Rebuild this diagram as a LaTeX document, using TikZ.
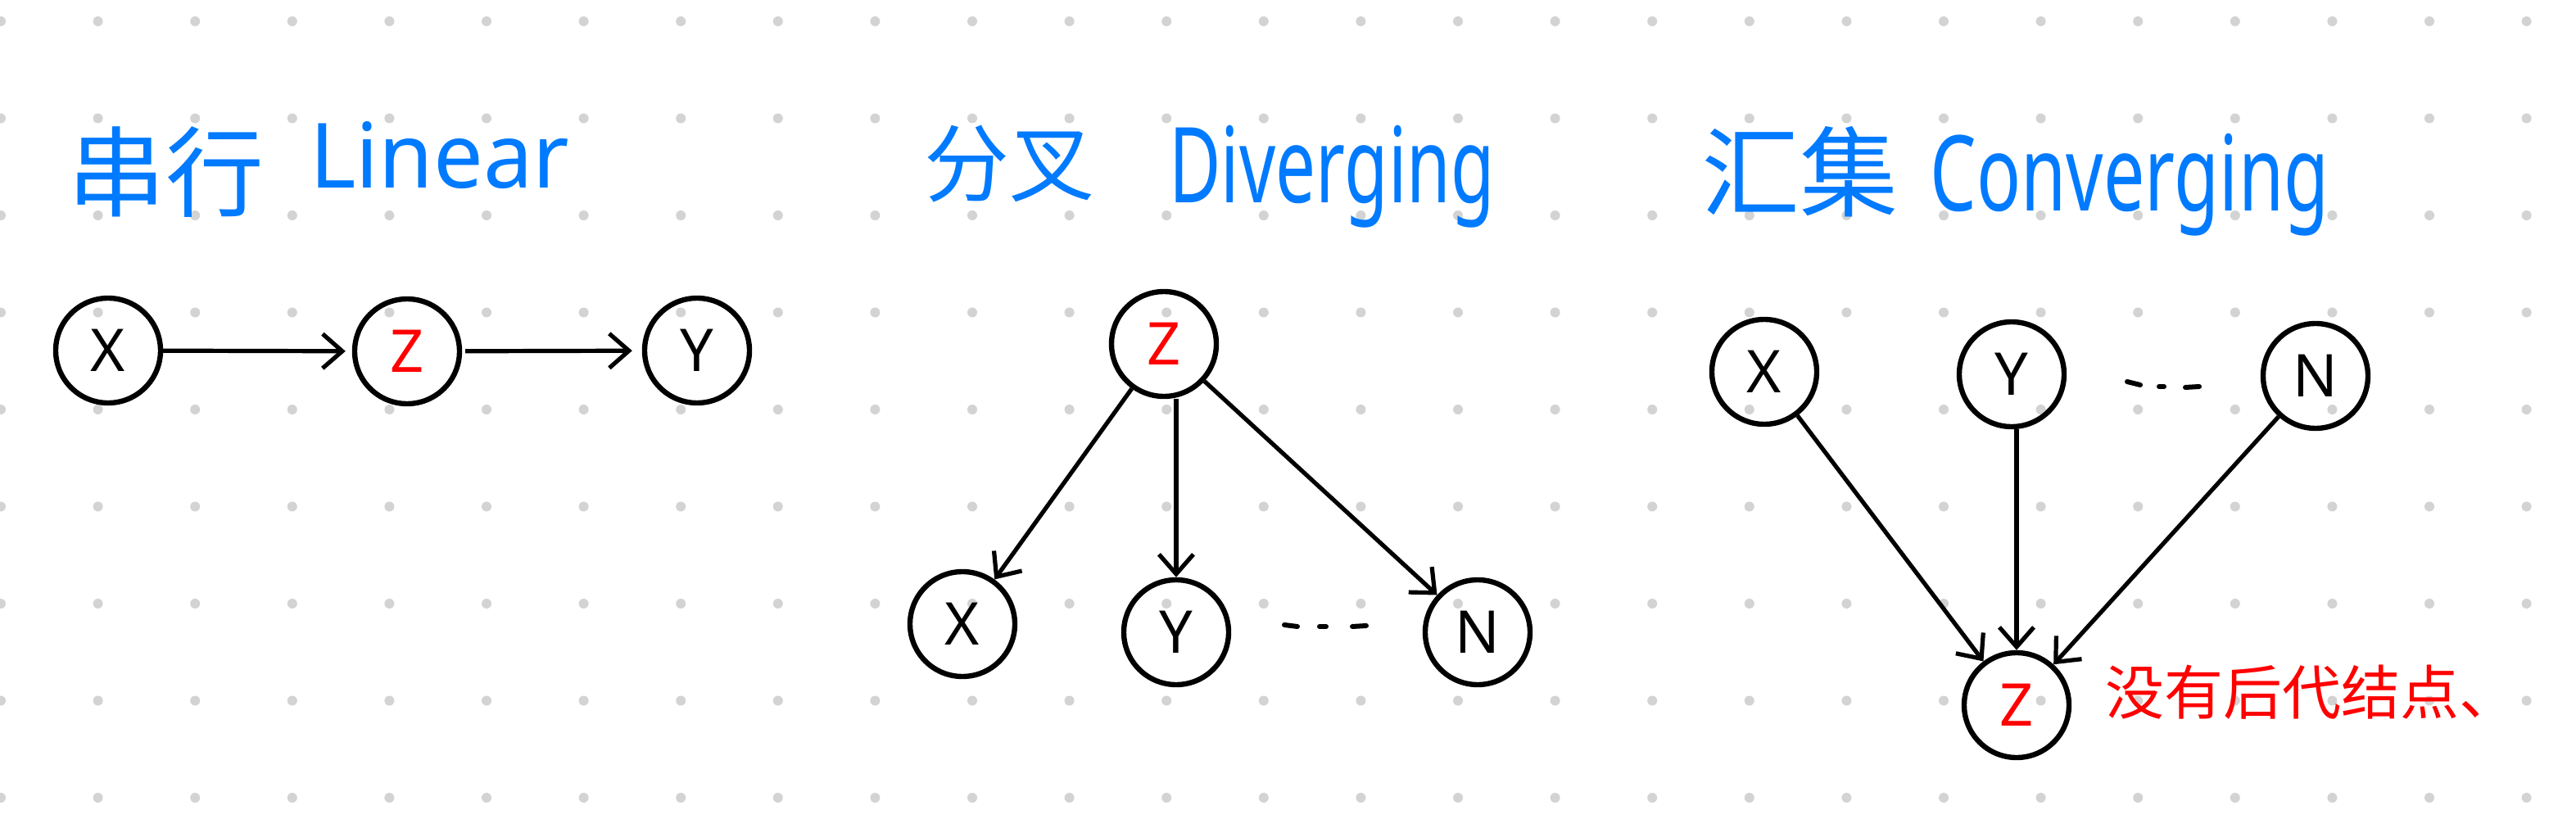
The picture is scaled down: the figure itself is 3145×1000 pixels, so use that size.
\documentclass[tikz,border=0pt]{standalone}
\usepackage{fontspec}
\setmainfont{Noto Sans}
\newfontfamily\cjk{Noto Sans CJK SC}
\usetikzlibrary{arrows.meta}
\definecolor{penblue}{RGB}{0,122,255}
\definecolor{penred}{RGB}{255,0,0}
\definecolor{dotgray}{RGB}{211,211,211}
\begin{document}
\begin{tikzpicture}[x=0.5pt,y=-0.5pt,
  var/.style={circle,draw=black,line width=3.2pt,minimum size=64pt,inner sep=0pt,
    font=\fontsize{36pt}{36pt}\selectfont},
  edge/.style={line width=2.6pt,-{Straight Barb[length=12pt,width=21pt,line width=2.6pt]}},
  cjktitle/.style={inner sep=0pt,anchor=west,text=penblue},
  lattitle/.style={inner sep=0pt,anchor=base west,text=penblue},
  ell/.style={line width=3pt,line cap=round}
]
\useasboundingbox (0,0) rectangle (3145,1000);
\fill[white] (0,0) rectangle (3145,1000);
\foreach \i in {0,...,26}
  \foreach \j in {0,...,8}
    \fill[dotgray] (1+118.6*\i,26+118.5*\j) circle (3pt);

% titles
\node[cjktitle,font=\cjk\fontsize{60pt}{60pt}\selectfont] (t1c) at (82,210) {串行};
\node[lattitle,font=\fontsize{55pt}{55pt}\selectfont] (t1l) at (378,230) {\scalebox{0.98}[1]{Linear}};
\node[cjktitle,font=\cjk\fontsize{52pt}{52pt}\selectfont] (t2c) at (1128,200) {分叉};
\node[lattitle,font=\fontsize{64pt}{64pt}\selectfont] (t2l) at (1427,248) {\scalebox{0.68}[1]{Diverging}};
\node[cjktitle,font=\cjk\fontsize{60pt}{60pt}\selectfont] (t3c) at (2077,210) {汇集};
\node[lattitle,font=\fontsize{64pt}{64pt}\selectfont] (t3l) at (2356,258) {\scalebox{0.70}[1]{Converging}};

% Linear
\node[var] (LX) at (132,428) {X};
\node[var,text=penred] (LZ) at (497,429) {Z};
\node[var] (LY) at (851,428) {Y};
\draw[edge,shorten >=4pt] (LX) -- (LZ);
\draw[edge,shorten >=6pt,shorten <=2pt] (LZ) -- (LY);

% Diverging
\node[var,text=penred] (DZ) at (1421,420) {Z};
\node[var] (DX) at (1175,762) {X};
\node[var] (DY) at (1436,772) {Y};
\node[var] (DN) at (1804,772) {N};
\draw[edge] (DZ) -- (DX);
\draw[edge] (DZ.south -| DY.north) -- (DY.north);
\draw[edge] (DZ) -- (DN);
\draw[ell] (1568,763) -- (1584,765);
\draw[ell] (1611,765) -- (1619,765);
\draw[ell] (1651,765) -- (1668,764);

% Converging
\node[var] (CX) at (2154,454) {X};
\node[var] (CY) at (2456,457) {Y};
\node[var] (CN) at (2827,459) {N};
\node[var,text=penred] (CZ) at (2462,861) {Z};
\draw[edge] (CX) -- (CZ);
\draw[edge] (CZ.north |- CY.south) -- (CZ.north);
\draw[edge] (CN) -- (CZ);
\draw[ell] (2597,466) -- (2613,470);
\draw[ell] (2636,472) -- (2642,472);
\draw[ell] (2668,473) -- (2685,472);

\node[inner sep=0pt,anchor=west,text=penred,font=\cjk\fontsize{36pt}{36pt}\selectfont] (note) at (2570,845) {没有后代结点、};
\end{tikzpicture}
\end{document}
